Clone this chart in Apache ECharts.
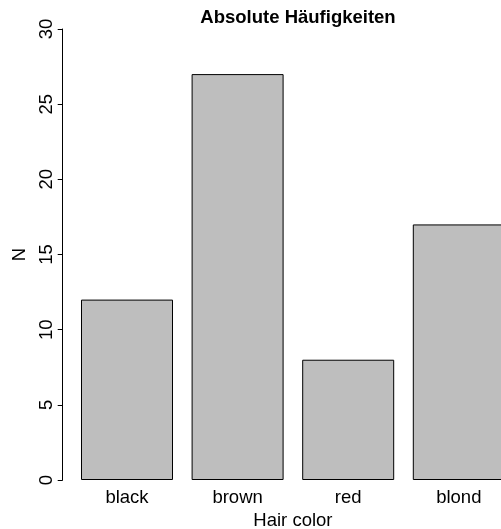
<!DOCTYPE html>
<html><head><meta charset="utf-8">
<script src="https://cdn.jsdelivr.net/npm/echarts@6/dist/echarts.min.js"></script>
<style>html,body{margin:0;padding:0;background:#fff}#c{width:501px;height:529px}</style>
</head><body><div id="c"></div>
<script>
const categories = ['black', 'brown', 'red', 'blond'];
const counts = [12, 27, 8, 17];
const yTicks = { min: 0, max: 30, interval: 5 };
const titleText = 'Absolute Häufigkeiten';
const xName = 'Hair color';
const yName = 'N';

const chart = echarts.init(document.getElementById('c'), null, { renderer: 'canvas' });
const F = 'Liberation Sans, Arial, Helvetica, sans-serif';
chart.setOption({
  animation: false,
  title: {
    text: titleText, left: 293, top: 3, textAlign: 'center',
    textStyle: { fontFamily: F, fontWeight: 'bold', fontSize: 18.5, color: '#000' }
  },
  grid: { left: 71.7, top: 29, width: 442.4, height: 451, outerBoundsMode: 'none', containLabel: false },
  xAxis: {
    type: 'category', data: categories,
    axisLine: { show: false }, axisTick: { show: false },
    axisLabel: { fontFamily: F, fontSize: 18.5, color: '#000', margin: 8 },
    name: xName, nameLocation: 'middle', nameGap: 29,
    nameTextStyle: { fontFamily: F, fontSize: 18.5, color: '#000' }
  },
  yAxis: {
    type: 'value', min: yTicks.min, max: yTicks.max, interval: yTicks.interval,
    offset: 9,
    axisLine: { show: true, lineStyle: { color: '#000', width: 1 } },
    axisTick: { show: true, length: 5, lineStyle: { color: '#000' } },
    splitLine: { show: false },
    axisLabel: { fontFamily: F, fontSize: 18.5, color: '#000', rotate: 90, margin: 6 },
    name: yName, nameLocation: 'middle', nameGap: 32, nameRotate: 90,
    nameTextStyle: { fontFamily: F, fontSize: 18.5, color: '#000' }
  },
  series: [{
    type: 'bar', data: counts, barWidth: 92,
    itemStyle: { color: '#BEBEBE', borderColor: '#000', borderWidth: 1 }
  }]
});
</script></body></html>
